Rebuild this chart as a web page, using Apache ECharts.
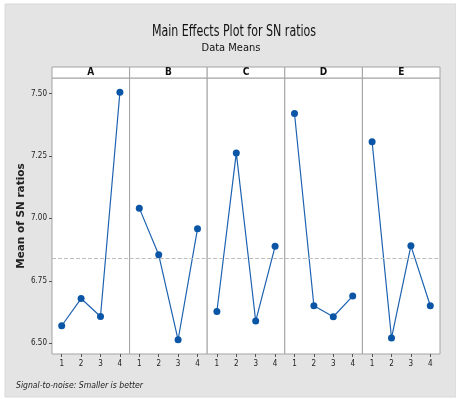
<!DOCTYPE html>
<html>
<head>
<meta charset="utf-8">
<script src="https://cdn.jsdelivr.net/npm/echarts@6/dist/echarts.min.js"></script>
<style>
  html, body { margin: 0; padding: 0; background: #ffffff; }
  #chart { width: 456px; height: 399px; }
</style>
</head>
<body>
<div id="chart"></div>
<script>
// Factor names and their levels
const factors = ['A', 'B', 'C', 'D', 'E'];
const levels = ['1', '2', '3', '4'];

// Mean SN ratio at each level, per factor
const meanA = [6.570, 6.679, 6.607, 7.505];
const meanB = [7.041, 6.854, 6.514, 6.958];
const meanC = [6.627, 7.262, 6.589, 6.888];
const meanD = [7.420, 6.650, 6.606, 6.689];
const meanE = [7.307, 6.521, 6.890, 6.650];

// Y-axis tick labels
const yTicks = [6.50, 6.75, 7.00, 7.25, 7.50];

const seriesData = [meanA, meanB, meanC, meanD, meanE];

// Grand mean across every level of every factor
const allVals = seriesData.flat();
const grandMean = allVals.reduce((s, v) => s + v, 0) / allVals.length;

const panelLeft = 52;
const panelW = 77.6;
const panelTop = 78;
const panelH = 276;
const stripH = 11;
const axisGray = '#a3a3a3';
const lineBlue = '#1d62b0';
const dotBlue = '#0a55a5';
const font = '"DejaVu Sans Condensed", "Liberation Sans Narrow", sans-serif';

const grids = [], xAxes = [], yAxes = [], series = [], graphics = [];

factors.forEach((f, i) => {
  const left = panelLeft + i * panelW;
  grids.push({
    left: left, top: panelTop, width: panelW, height: panelH,
    show: true, backgroundColor: '#ffffff',
    borderColor: axisGray, borderWidth: 1
  });
  xAxes.push({
    gridIndex: i, type: 'category', data: levels, boundaryGap: true,
    axisLine: { show: false },
    axisTick: { show: true, alignWithLabel: true, length: 3, lineStyle: { color: '#555' } },
    axisLabel: { color: '#222', fontSize: 8, fontFamily: font, margin: 6 },
    splitLine: { show: false }
  });
  yAxes.push({
    gridIndex: i, type: 'value', min: 6.457, max: 7.562,
    axisLine: { show: false },
    axisTick: { show: i === 0, length: 3, customValues: yTicks, lineStyle: { color: '#555' } },
    axisLabel: {
      show: i === 0, customValues: yTicks, color: '#222', fontSize: 8, fontFamily: font,
      margin: 5, formatter: v => v.toFixed(2)
    },
    splitLine: { show: false },
    name: i === 0 ? 'Mean of SN ratios' : '',
    nameLocation: 'middle', nameGap: 15, nameRotate: 90,
    nameTextStyle: { fontSize: 10.5, fontWeight: 'bold', color: '#222', fontFamily: '"DejaVu Sans", Verdana, sans-serif' }
  });
  series.push({
    type: 'line', xAxisIndex: i, yAxisIndex: i, data: seriesData[i],
    symbol: 'circle', symbolSize: 7,
    lineStyle: { color: lineBlue, width: 1.2 },
    itemStyle: { color: dotBlue },
    markLine: {
      silent: true, symbol: 'none', label: { show: false },
      lineStyle: { color: '#bdbdbd', type: 'dashed', width: 1 },
      data: [{ yAxis: grandMean }]
    },
    animation: false
  });
  // Factor strip header above each panel
  graphics.push({
    type: 'rect', shape: { x: left, y: panelTop - stripH, width: panelW, height: stripH },
    style: { fill: '#ffffff', stroke: axisGray, lineWidth: 1 }, z: 10
  });
  graphics.push({
    type: 'text', x: left + panelW / 2, y: panelTop - stripH / 2,
    style: { text: f, fill: '#111', font: 'bold 10px ' + font, textAlign: 'center', textVerticalAlign: 'middle' },
    z: 11
  });
});

// Light gray frame behind the whole figure
graphics.unshift({
  type: 'rect', shape: { x: 5, y: 4, width: 451, height: 393 },
  style: { fill: '#e4e4e4', stroke: '#d8d8d8', lineWidth: 1 }, z: -10
});
// Figure title and subtitle
graphics.push({
  type: 'text', x: 234, y: 32, scaleX: 0.82,
  style: { text: 'Main Effects Plot for SN ratios', fill: '#111', font: '15px ' + font, textAlign: 'center', textVerticalAlign: 'middle' }
});
graphics.push({
  type: 'text', x: 231, y: 48.5,
  style: { text: 'Data Means', fill: '#111', font: '11px ' + font, textAlign: 'center', textVerticalAlign: 'middle' }
});
graphics.push({
  type: 'text', x: 16, y: 386,
  style: { text: 'Signal-to-noise: Smaller is better', fill: '#222', font: 'italic 8.6px ' + font, textVerticalAlign: 'middle' }
});

const chart = echarts.init(document.getElementById('chart'), null, { renderer: 'canvas' });
chart.setOption({
  animation: false,
  backgroundColor: '#ffffff',
  grid: grids,
  xAxis: xAxes,
  yAxis: yAxes,
  series: series,
  graphic: graphics
});
</script>
</body>
</html>
